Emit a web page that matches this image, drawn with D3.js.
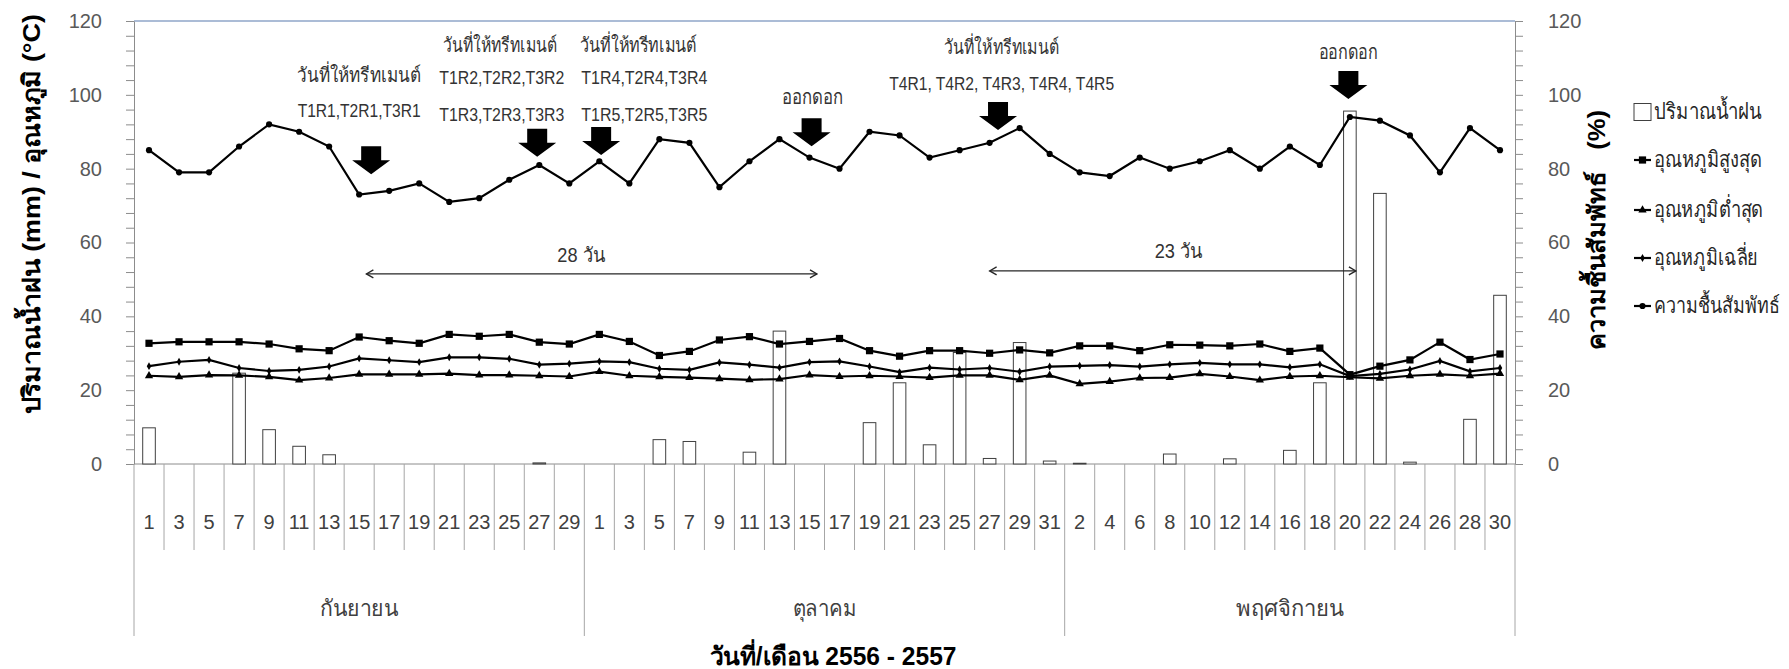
<!DOCTYPE html>
<html>
<head>
<meta charset="utf-8">
<script src="https://cdn.jsdelivr.net/npm/d3@7"></script>
<style>
body { margin: 0; background: #fff; }
text { font-family: "Liberation Sans", Arial, sans-serif; }
.narrow { font-family: "Liberation Sans Narrow", "Arial Narrow", "Liberation Sans", sans-serif; }
</style>
</head>
<body>
<svg id="chart" width="1789" height="669"></svg>
<script>
// days on the x axis, one category each
var sepDays = [1, 3, 5, 7, 9, 11, 13, 15, 17, 19, 21, 23, 25, 27, 29];
var octDays = [1, 3, 5, 7, 9, 11, 13, 15, 17, 19, 21, 23, 25, 27, 29, 31];
var novDays = [2, 4, 6, 8, 10, 12, 14, 16, 18, 20, 22, 24, 26, 28, 30];
var monthNames = ["กันยายน", "ตุลาคม", "พฤศจิกายน"];

// rainfall (mm)
var rain = [9.8, 0, 0, 24.6, 9.3, 4.8, 2.5, 0, 0, 0, 0, 0, 0, 0.3, 0,
            0, 0, 6.6, 6.1, 0, 3.2, 36.0, 0, 0, 11.2, 22.0, 5.2, 30.2, 1.5, 32.9, 0.8,
            0.2, 0, 0, 2.7, 0, 1.4, 0, 3.7, 22.0, 95.6, 73.3, 0.5, 0, 12.1, 45.7];
// max temperature
var tmax = [32.7, 33.1, 33.1, 33.1, 32.5, 31.2, 30.7, 34.4, 33.4, 32.7, 35.1, 34.6, 35.1, 33.0, 32.5,
            35.1, 33.2, 29.4, 30.5, 33.6, 34.5, 32.5, 33.2, 34.0, 30.7, 29.2, 30.7, 30.7, 30.0, 30.9, 30.1,
            32.0, 32.0, 30.7, 32.3, 32.2, 32.0, 32.5, 30.5, 31.4, 24.2, 26.5, 28.2, 33.0, 28.3, 29.8];
// min temperature
var tmin = [23.9, 23.6, 24.1, 24.0, 23.6, 22.7, 23.3, 24.3, 24.3, 24.3, 24.5, 24.1, 24.1, 23.9, 23.7,
            25.0, 23.9, 23.6, 23.4, 23.1, 22.8, 23.0, 24.1, 23.7, 23.9, 23.7, 23.4, 24.0, 24.0, 22.8, 24.0,
            21.7, 22.3, 23.3, 23.4, 24.4, 23.7, 22.7, 23.7, 23.9, 23.5, 23.2, 23.9, 24.3, 23.9, 24.5];
// mean temperature
var tavg = [26.5, 27.7, 28.2, 26.0, 25.2, 25.5, 26.4, 28.6, 28.1, 27.6, 28.9, 28.9, 28.5, 26.9, 27.2,
            27.8, 27.6, 25.8, 25.5, 27.5, 26.9, 26.1, 27.6, 27.8, 26.4, 24.9, 26.1, 25.6, 26.0, 25.0, 26.4,
            26.6, 26.8, 26.4, 27.0, 27.4, 27.0, 27.0, 26.2, 27.0, 23.8, 24.4, 25.6, 27.9, 25.1, 26.0];
// relative humidity (%) - right axis
var humid = [85, 79, 79, 86, 92, 90, 86, 73, 74, 76, 71, 72, 77, 81, 76,
             82, 76, 88, 87, 75, 82, 88, 83, 80, 90, 89, 83, 85, 87, 91, 84,
             79, 78, 83, 80, 82, 85, 80, 86, 81, 94, 93, 89, 79, 91, 85];

var yTicks = [0, 20, 40, 60, 80, 100, 120];
var seriesNames = ["ปริมาณน้ำฝน", "อุณหภูมิสูงสุด", "อุณหภูมิต่ำสุด", "อุณหภูมิเฉลี่ย", "ความชื้นสัมพัทธ์"];

// notes: [category index, value, text, width, narrow]
var notes = [
    [7.0, 103.4, "วันที่ให้ทรีทเมนต์", 124, 0],
    [7.0, 94.0, "T1R1,T2R1,T3R1", 123, 1],
    [11.7, 111.6, "วันที่ให้ทรีทเมนต์", 114, 0],
    [11.75, 103.0, "T1R2,T2R2,T3R2", 125, 1],
    [11.75, 93.0, "T1R3,T2R3,T3R3", 125, 1],
    [16.3, 111.6, "วันที่ให้ทรีทเมนต์", 117, 0],
    [16.5, 103.0, "T1R4,T2R4,T3R4", 126, 1],
    [16.5, 93.0, "T1R5,T2R5,T3R5", 126, 1],
    [22.1, 97.4, "ออกดอก", 61, 0],
    [28.4, 111.1, "วันที่ให้ทรีทเมนต์", 115, 0],
    [28.4, 101.3, "T4R1, T4R2, T4R3, T4R4, T4R5", 225, 1],
    [39.94, 109.7, "ออกดอก", 59, 0]
];
// block arrows: [category index, value at tip]
var arrowsAt = [[7.4, 78.5], [12.93, 83.2], [15.06, 83.7], [22.07, 86.1], [28.28, 90.5], [39.95, 98.9]];
// periods: [from index, to index, value, label, label index, label value]
var spans = [[7.24, 22.25, 51.5, "28 วัน", 14.4, 54.7], [28.0, 40.2, 52.3, "23 วัน", 34.3, 55.8]];

var cats = [];
[sepDays, octDays, novDays].forEach(function(ds, m) {
    ds.forEach(function(d) { cats.push({ day: d, month: m }); });
});
var n = cats.length;

var svg = d3.select("#chart");
var plotL = 134, plotR = 1515, plotT = 21, plotB = 464;

var x = d3.scaleBand().domain(d3.range(n)).range([plotL, plotR]).padding(0);
var xi = d3.scaleLinear().domain([0, n]).range([plotL, plotR]); // fractional positions
var y = d3.scaleLinear().domain([0, 120]).range([plotB, plotT]);
var yR = d3.scaleLinear().domain([0, 120]).range([plotB, plotT]);
var cx = function(i) { return xi(i + 0.5); };

function fit(sel, w) {
    sel.each(function() {
        var L = this.getComputedTextLength();
        if (Math.abs(L - w) > 2) d3.select(this).attr("textLength", w).attr("lengthAdjust", "spacingAndGlyphs");
    });
}

// top border line at 120
svg.append("line").attr("x1", plotL).attr("x2", plotR)
    .attr("y1", y(120)).attr("y2", y(120))
    .attr("stroke", "#8fa6c9").attr("stroke-width", 1.5);

// value axes
var minor = d3.range(0, 121, 4);
var fmt = function(d) { return yTicks.indexOf(d) >= 0 ? d : ""; };
var gl = svg.append("g").attr("transform", "translate(" + plotL + ",0)")
    .call(d3.axisLeft(y).tickValues(minor).tickSize(8).tickSizeOuter(0).tickPadding(24).tickFormat(fmt));
var gr = svg.append("g").attr("transform", "translate(" + plotR + ",0)")
    .call(d3.axisRight(yR).tickValues(minor).tickSize(8).tickSizeOuter(0).tickPadding(25).tickFormat(fmt));
[gl, gr].forEach(function(g) {
    g.select(".domain").attr("stroke", "#8c8c8c");
    g.selectAll(".tick line").attr("stroke", "#8c8c8c");
    g.selectAll(".tick text").attr("fill", "#595959").style("font-size", "20px")
        .style("font-family", "'Liberation Sans', Arial, sans-serif");
});

// category axis
svg.append("line").attr("x1", plotL).attr("x2", plotR).attr("y1", plotB).attr("y2", plotB)
    .attr("stroke", "#8c8c8c");
var bounds = [0, sepDays.length, sepDays.length + octDays.length, n];
svg.append("g").selectAll("line")
    .data(d3.range(n + 1))
    .enter().append("line")
    .attr("x1", function(k) { return xi(k); })
    .attr("x2", function(k) { return xi(k); })
    .attr("y1", plotB)
    .attr("y2", function(k) { return bounds.indexOf(k) >= 0 ? 636 : 550; })
    .attr("stroke", "#a6a6a6");
svg.append("g").selectAll("text")
    .data(cats)
    .enter().append("text")
    .attr("x", function(d, i) { return cx(i); })
    .attr("y", 529)
    .attr("text-anchor", "middle")
    .attr("fill", "#404040")
    .style("font-size", "20px")
    .text(function(d) { return d.day; });
svg.append("g").selectAll("text")
    .data(monthNames)
    .enter().append("text")
    .attr("x", function(d, m) { return (xi(bounds[m]) + xi(bounds[m + 1])) / 2; })
    .attr("y", 616)
    .attr("text-anchor", "middle")
    .attr("fill", "#404040")
    .style("font-size", "22px")
    .text(function(d) { return d; })
    .each(function(d, m) { fit(d3.select(this), [78, 64, 106][m]); });

// rain bars
var bw = x.bandwidth() * 0.42;
svg.append("g").selectAll("rect")
    .data(rain)
    .enter().append("rect")
    .attr("x", function(d, i) { return x(i) + (x.bandwidth() - bw) / 2; })
    .attr("y", function(d) { return y(d); })
    .attr("width", bw)
    .attr("height", function(d) { return y(0) - y(d); })
    .attr("fill", "#fff")
    .attr("stroke", "#404040")
    .attr("stroke-width", 1);

// lines
function drawLine(data, sc) {
    var line = d3.line().x(function(d, i) { return cx(i); }).y(function(d) { return sc(d); });
    svg.append("path").datum(data).attr("d", line)
        .attr("fill", "none").attr("stroke", "#000").attr("stroke-width", 2.2);
}
var sym = {
    max: d3.symbol().type(d3.symbolSquare).size(52),
    min: d3.symbol().type(d3.symbolTriangle).size(30),
    avg: d3.symbol().type(d3.symbolDiamond).size(18),
    rh: d3.symbol().type(d3.symbolCircle).size(30)
};
function drawMarks(data, sc, s) {
    svg.append("g").selectAll("path")
        .data(data)
        .enter().append("path")
        .attr("transform", function(d, i) { return "translate(" + cx(i) + "," + sc(d) + ")"; })
        .attr("d", s)
        .attr("fill", "#000");
}
drawLine(tmin, y); drawMarks(tmin, y, sym.min);
drawLine(tavg, y); drawMarks(tavg, y, sym.avg);
drawLine(tmax, y); drawMarks(tmax, y, sym.max);
drawLine(humid, yR); drawMarks(humid, yR, sym.rh);

// notes
svg.append("g").selectAll("text")
    .data(notes)
    .enter().append("text")
    .attr("class", function(d) { return d[4] ? "narrow" : null; })
    .attr("x", function(d) { return cx(d[0]); })
    .attr("y", function(d) { return y(d[1]); })
    .attr("text-anchor", "middle")
    .attr("fill", "#333")
    .style("font-size", function(d) { return d[4] ? "18.5px" : "20px"; })
    .text(function(d) { return d[2]; })
    .each(function(d) { fit(d3.select(this), d[3]); });

// block arrows
svg.append("g").selectAll("path")
    .data(arrowsAt)
    .enter().append("path")
    .attr("transform", function(d) { return "translate(" + cx(d[0]) + "," + y(d[1]) + ")"; })
    .attr("d", "M-10,-28H10V-14H19L0,0L-19,-14H-10Z")
    .attr("fill", "#000");

// period arrows
var gs = svg.append("g");
spans.forEach(function(s) {
    var x1 = cx(s[0]), x2 = cx(s[1]), yy = y(s[2]);
    gs.append("line").attr("x1", x1).attr("x2", x2).attr("y1", yy).attr("y2", yy)
        .attr("stroke", "#262626").attr("stroke-width", 1.3);
    gs.append("path")
        .attr("d", "M" + (x1 + 7) + "," + (yy - 4) + "L" + x1 + "," + yy + "L" + (x1 + 7) + "," + (yy + 4) +
            "M" + (x2 - 7) + "," + (yy - 4) + "L" + x2 + "," + yy + "L" + (x2 - 7) + "," + (yy + 4))
        .attr("fill", "none").attr("stroke", "#262626").attr("stroke-width", 1.3);
    gs.append("text").attr("x", cx(s[4])).attr("y", y(s[5]))
        .attr("text-anchor", "middle").attr("fill", "#333")
        .style("font-size", "20px")
        .text(s[3])
        .call(fit, 48);
});

// legend
var lg = svg.append("g").attr("transform", "translate(1634,0)");
var rowsY = [112, 160, 210, 258, 306];
var legendSym = [null, sym.max, sym.min, sym.avg, sym.rh];
var legendW = [108, 108, 109, 104, 126];
seriesNames.forEach(function(name, k) {
    var ry = rowsY[k];
    if (k === 0) {
        lg.append("rect").attr("x", 0).attr("y", ry - 8.5).attr("width", 17).attr("height", 17)
            .attr("fill", "#fff").attr("stroke", "#404040");
    } else {
        lg.append("line").attr("x1", 0).attr("x2", 17).attr("y1", ry).attr("y2", ry)
            .attr("stroke", "#000").attr("stroke-width", 2.2);
        lg.append("path").attr("transform", "translate(8.5," + ry + ")").attr("d", legendSym[k]).attr("fill", "#000");
    }
    lg.append("text").attr("x", 20).attr("y", ry + 7)
        .attr("fill", "#262626").style("font-size", "22px")
        .text(name)
        .call(fit, legendW[k]);
});

// axis titles
svg.append("text")
    .attr("transform", "translate(40,214) rotate(-90)")
    .attr("text-anchor", "middle")
    .style("font-size", "24px").style("font-weight", "bold")
    .attr("fill", "#000")
    .text("ปริมาณน้ำฝน (mm) / อุณหภูมิ (°C)")
    .call(fit, 400);
svg.append("text")
    .attr("transform", "translate(1605,230) rotate(-90)")
    .attr("text-anchor", "middle")
    .style("font-size", "24px").style("font-weight", "bold")
    .attr("fill", "#000")
    .text("ความชื้นสัมพัทธ์\u00a0\u00a0\u00a0(%)")
    .call(fit, 240);
svg.append("text")
    .attr("x", 833).attr("y", 665)
    .attr("text-anchor", "middle")
    .style("font-size", "25px").style("font-weight", "bold")
    .attr("fill", "#000")
    .text("วันที่/เดือน 2556 - 2557")
    .call(fit, 247);
</script>
</body>
</html>
